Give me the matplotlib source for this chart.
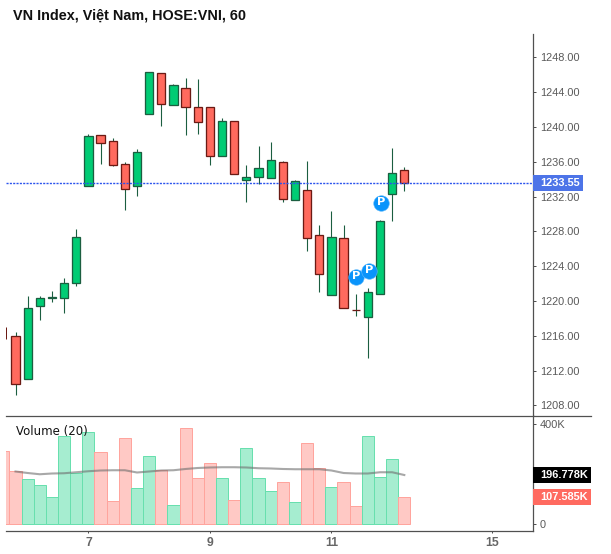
import matplotlib
matplotlib.use("Agg")
import matplotlib.pyplot as plt
from matplotlib.lines import Line2D
from matplotlib.patches import Rectangle

W, H = 611, 554

open_ = [1215.93, 1210.99, 1219.45, 1220.39, 1220.37, 1222.09, 1233.17, 1239.03, 1238.34, 1235.70, 1233.24,
         1241.45, 1246.16, 1242.48, 1244.44, 1242.25, 1242.25, 1236.62, 1240.64, 1233.93, 1234.21, 1234.09,
         1235.93, 1231.56, 1232.71, 1227.54, 1220.64, 1227.20, 1218.95, 1218.11, 1220.76, 1232.25, 1235.01]
close = [1210.41, 1219.15, 1220.30, 1220.43, 1222.02, 1227.31, 1238.92, 1238.18, 1235.65, 1232.90, 1237.08,
         1246.28, 1242.60, 1244.78, 1242.25, 1240.60, 1236.62, 1240.64, 1234.55, 1234.21, 1235.24, 1236.16,
         1231.68, 1233.75, 1227.20, 1223.13, 1227.31, 1219.15, 1218.90, 1220.99, 1229.15, 1234.67, 1233.55]
high = [1216.43, 1220.56, 1220.56, 1221.14, 1222.60, 1228.26, 1239.18, 1239.03, 1238.69, 1235.93, 1237.42,
        1246.28, 1246.16, 1244.90, 1245.59, 1245.47, 1242.25, 1240.99, 1240.64, 1235.62, 1237.80, 1238.23,
        1236.05, 1233.86, 1236.08, 1228.72, 1230.33, 1228.72, 1220.79, 1221.45, 1229.30, 1237.54, 1235.36]
low = [1209.22, 1210.99, 1217.80, 1219.91, 1218.64, 1221.71, 1233.17, 1235.77, 1235.54, 1230.45, 1232.09,
       1241.45, 1240.10, 1242.48, 1239.07, 1239.18, 1235.65, 1236.62, 1234.55, 1231.40, 1233.44, 1234.09,
       1231.40, 1231.56, 1225.77, 1221.02, 1220.64, 1219.15, 1218.26, 1213.47, 1220.76, 1229.22, 1232.67]

volume = [291, 211, 183, 159, 111, 351, 205, 367, 287, 95, 343, 147, 271, 216, 79, 383, 187, 243, 187, 99, 303,
          187, 135, 171, 91, 323, 224, 151, 171, 75, 351, 191, 259, 107.585]
volume_up = [0, 0, 1, 1, 1, 1, 1, 1, 0, 0, 0, 1, 1, 0, 1, 0, 0, 0, 1, 0, 1,
             1, 1, 0, 1, 0, 0, 1, 0, 0, 1, 1, 1, 0]
volume_ma = [211, 205, 200, 203, 204, 208, 212, 215, 216, 216, 207, 211, 215, 216, 221, 225, 227, 228, 228, 227,
             224, 223, 221, 220, 220, 220, 215, 205, 203, 203, 208, 208, 197]

pivot_x = [28.05, 29.1, 30.1]
pivot_y = [1222.75, 1223.44, 1231.22]

price_ticks = [1208, 1212, 1216, 1220, 1224, 1228, 1232, 1236, 1240, 1244, 1248]
volume_ticks = [0, 400]
volume_tick_labels = ["0", "400K"]
time_ticks = [6, 16, 26, 39.2]
time_labels = ["7", "9", "11", "15"]
last_price = 1233.55
partial_wick = [1215.62, 1217.0]

GREEN, GREEN_E = "#00cc74", "#1b5e40"
RED, RED_E = "#ff6a5e", "#6b1a14"
VG, VGE = "#a6edd0", "#68dfae"
VR, VRE = "#ffc9c5", "#ffa49d"
GRAY = "#5a5a5a"
LINE = "#505050"
PX = 0.72  # one pixel in points

SANS = ["Liberation Sans", "DejaVu Sans"]

fig = plt.figure(figsize=(W / 100, H / 100), dpi=100, facecolor="white")


def box(x0, y0, x1, y1):
    return [x0 / W, 1 - y1 / H, (x1 - x0) / W, (y1 - y0) / H]


ax = fig.add_axes(box(6, 34, 532.5, 415))
vx = fig.add_axes(box(6, 415, 532.5, 530.5))
xlim = (-0.782, 42.55)

# candles
ax.vlines(-0.8, partial_wick[0], partial_wick[1], color=RED_E, lw=PX, clip_on=False, zorder=2)
for i, (o, c, h, l) in enumerate(zip(open_, close, high, low)):
    up = c >= o
    ax.vlines(i, l, h, color=GREEN_E, lw=PX * 1.1, zorder=2)
    ax.add_patch(Rectangle((i - 0.34, min(o, c)), 0.68, abs(c - o),
                           facecolor=GREEN if up else RED,
                           edgecolor=GREEN_E if up else RED_E, lw=PX * 1.3, zorder=3))

ax.axhline(last_price, color="#2a52ee", lw=1.0, ls=(0, (1.5, 0.9)), zorder=4)
ax.scatter(pivot_x, pivot_y, s=125, color="#0a94fb", edgecolors="#5db8fb", linewidths=0.4, zorder=6)
for px, py in zip(pivot_x, pivot_y):
    ax.text(px, py + 0.1, "P", color="white", fontsize=8.2, fontweight="bold", family="DejaVu Sans",
            ha="center", va="center", zorder=7)

ax.set_xlim(*xlim)
ax.set_ylim(1206.885, 1250.68)
ax.set_xticks([])
ax.yaxis.tick_right()
ax.set_yticks(price_ticks)
ax.set_yticklabels([f"{v:.2f}" for v in price_ticks], family=SANS, fontsize=7.9, color=GRAY)
ax.tick_params(axis="y", length=2.2, width=PX, color=LINE, pad=3.2)

# volume
vol_x = list(range(-1, len(volume) - 1))
for i, v, u in zip(vol_x, volume, volume_up):
    vx.add_patch(Rectangle((i - 0.5, 0), 1, v, facecolor=VG if u else VR,
                           edgecolor=VGE if u else VRE, lw=PX, zorder=2))
vx.plot(range(len(volume_ma)), volume_ma, color="#6e6e6e", lw=1.5, alpha=0.6, zorder=3)
vx.set_xlim(*xlim)
vx.set_ylim(-24, 436)
vx.yaxis.tick_right()
vx.set_yticks(volume_ticks)
vx.set_yticklabels(volume_tick_labels, family=SANS, fontsize=7.9, color=GRAY)
vx.tick_params(axis="y", length=2.2, width=PX, color=LINE, pad=3.2)
vx.set_xticks(time_ticks)
vx.set_xticklabels(time_labels, family=SANS, fontsize=8.8, fontweight="bold", color="#666666")
vx.tick_params(axis="x", length=1.5, width=PX, color=LINE, pad=3.2)

for a in (ax, vx):
    for s in ("top", "left", "bottom"):
        a.spines[s].set_visible(False)
    a.spines["right"].set_color(LINE)
    a.spines["right"].set_linewidth(0.9)
vx.spines["bottom"].set_visible(True)
vx.spines["bottom"].set_color(LINE)
vx.spines["bottom"].set_linewidth(0.9)

# pane separator
fig.add_artist(Line2D([6 / W, 591 / W], [1 - 415.5 / H] * 2, color=LINE, lw=0.9))


def tag(x0, y0, x1, y1, face, text):
    fig.add_artist(Rectangle((x0 / W, 1 - y1 / H), (x1 - x0) / W, (y1 - y0) / H, facecolor=face,
                             edgecolor="none", transform=fig.transFigure, zorder=5))
    fig.text(540 / W, 1 - (y0 + y1) / 2 / H, text, color="white", fontsize=7.9, fontweight="bold",
             family=SANS, ha="left", va="center", zorder=6)


tag(532.5, 175, 583, 190.5, "#4d74e8", "1233.55")
tag(532.5, 467, 591, 483, "#000000", "196.778K")
tag(532.5, 489, 591, 505, "#ff6a60", "107.585K")

fig.text(13 / W, 1 - 16 / H, "VN Index, Việt Nam, HOSE:VNI, 60", fontsize=10.35, fontweight="bold",
         family="Liberation Sans", color="#111111", ha="left", va="center")
fig.text(16 / W, 1 - 431.5 / H, "Volume (20)", fontsize=8.5, family="DejaVu Sans", color="#111111",
         ha="left", va="center", zorder=10)

fig.savefig("out.png", dpi=100, facecolor="white")
